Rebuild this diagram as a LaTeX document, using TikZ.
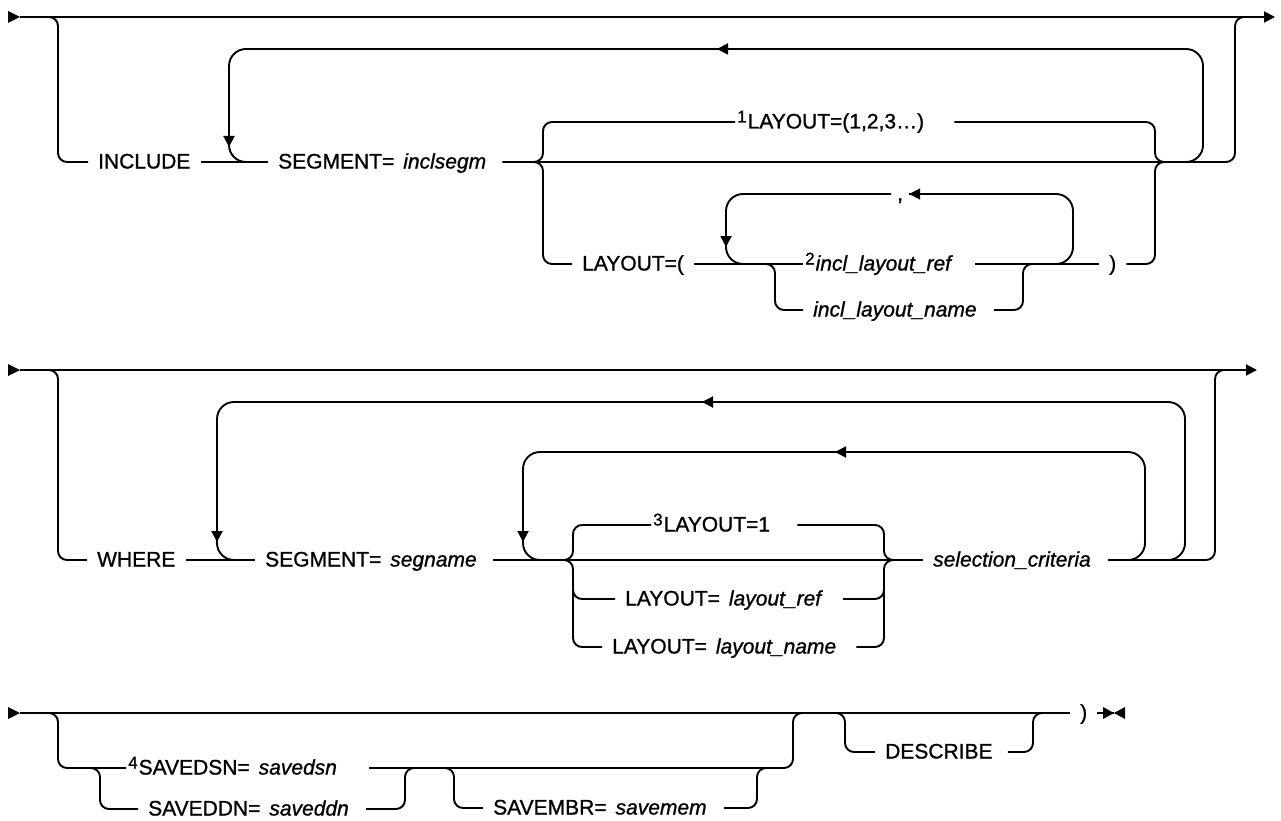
\documentclass[tikz,border=0pt]{standalone}
\usepackage{fontspec}
\setmainfont{Liberation Sans}[RawFeature={embolden=1.0}]
\usetikzlibrary{arrows.meta}
\newcommand\noteno[1]{\raisebox{6pt}{\fontsize{17}{17}\selectfont #1}\hspace{1pt}}
\newcommand\kwval[2]{#1\hspace{9pt}\textit{#2}}
\begin{document}
\begin{tikzpicture}[x=1pt,y=-1pt,
 >={Triangle[length=11pt,width=11pt]},
 rail/.style={line width=1.9pt,rounded corners=9pt},
 backrail/.style={line width=1.9pt,rounded corners=17pt},
 lbl/.style={anchor=west,inner xsep=10pt,inner ysep=0pt,text height=15pt,text depth=2pt,font=\fontsize{21}{21}\selectfont},
 fnlbl/.style={lbl,inner xsep=2pt}]
 \useasboundingbox (0,0) rectangle (1281,821);
 \coordinate (s1) at (20,17);
 \coordinate (e1) at (1275,17);
 \fill (s1)--++(-12,-6)--++(0,12)--cycle;
 \draw[rail,->] (s1)--(e1);
 \node[lbl] (inc) at (88,162) {INCLUDE};
 \node[lbl] (seg1) at (268,162) {\kwval{SEGMENT=}{inclsegm}};
 \node[fnlbl] (lay1) at (735,122) {\noteno{1}LAYOUT=(1,2,3…)};
 \node[lbl] (layp) at (572,264) {LAYOUT=(};
 \node[lbl,inner xsep=6pt] (comma) at (891,194) {,};
 \node[fnlbl] (ref) at (803,264) {\noteno{2}\textit{incl\_layout\_ref}};
 \node[lbl] (name) at (803,310) {\textit{incl\_layout\_name}};
 \node[lbl] (rpar1) at (1099,264) {)};
 \draw[rail] (40,17)--(58,17)--(58,162)--(inc.west);
 \draw[rail] (inc.east)--(seg1.west);
 \draw[rail] ([xshift=6pt]seg1.east)--(1235,162)--(1235,17)--(1250,17);
 \draw[backrail] (1185,162)-|(1203,49)-|(229,162)--(250,162);
 \draw[rail,->] (740,49)--(717,49);
 \draw[rail,->] (229,125)--(229,147);
 \draw[rail] (533,162)--(543,162)--(543,122)--(lay1.west);
 \draw[rail] (533,162)--(543,162)--(543,264)--(layp.west);
 \draw[rail] ([xshift=28pt]lay1.east)--(1155,122)--(1155,162)--(1165,162);
 \draw[rail] (rpar1.east)--(1155,264)--(1155,162)--(1165,162);
 \draw[rail] (layp.east)--(ref.west);
 \draw[backrail] (1055,264)-|(1073,194)--(comma.east);
 \draw[rail,->] (930,194)--(comma.east);
 \draw[backrail] (comma.west)-|(726,264)--(746,264);
 \draw[rail,->] (726,225)--(726,247);
 \draw[rail] (765,264)--(775,264)--(775,310)--(name.west);
 \draw[rail] ([xshift=20pt]ref.east)--(rpar1.west);
 \draw[rail] ([xshift=7pt]name.east)--(1023,310)--(1023,264)--(1035,264);
 \coordinate (s2) at (20,370);
 \coordinate (e2) at (1257,370);
 \fill (s2)--++(-12,-6)--++(0,12)--cycle;
 \draw[rail,->] (s2)--(e2);
 \node[lbl] (where) at (87,560) {WHERE};
 \node[lbl] (seg2) at (255,560) {\kwval{SEGMENT=}{segname}};
 \node[fnlbl] (lay3) at (651,525) {\noteno{3}LAYOUT=1};
 \node[lbl] (lref) at (615,599) {\kwval{LAYOUT=}{layout\_ref}};
 \node[lbl] (lname) at (602,647) {\kwval{LAYOUT=}{layout\_name}};
 \node[lbl] (sel) at (923,560) {\textit{selection\_criteria}};
 \draw[rail] (40,370)--(58,370)--(58,560)--(where.west);
 \draw[rail] (where.east)--(seg2.west);
 \draw[rail] ([xshift=6pt]seg2.east)--(sel.west);
 \draw[rail] ([xshift=7pt]sel.east)--(1215,560)--(1215,370)--(1230,370);
 \draw[backrail] (1167,560)-|(1185,402)-|(217,560)--(237,560);
 \draw[rail,->] (725,402)--(702,402);
 \draw[rail,->] (217,520)--(217,542);
 \draw[backrail] (1127,560)-|(1145,452)-|(523,560)--(543,560);
 \draw[rail,->] (858,452)--(835,452);
 \draw[rail,->] (523,520)--(523,542);
 \draw[rail] (563,560)--(573,560)--(573,525)--(lay3.west);
 \draw[rail] (563,560)--(573,560)--(573,647)--(lname.west);
 \draw[rail] (573,580)--(573,599)--(lref.west);
 \draw[rail] ([xshift=25pt]lay3.east)--(884,525)--(884,560)--(894,560);
 \draw[rail] ([xshift=10pt]lname.east)--(884,647)--(884,560)--(894,560);
 \draw[rail] ([xshift=10pt]lref.east)--(884,599)--(884,580);
 \coordinate (s3) at (20,713);
 \coordinate (e3) at (1114,713);
 \fill (s3)--++(-12,-6)--++(0,12)--cycle;
 \node[fnlbl] (dsn) at (126,768) {\noteno{4}\kwval{SAVEDSN=}{savedsn}};
 \node[lbl] (ddn) at (138,809) {\kwval{SAVEDDN=}{saveddn}};
 \node[lbl] (mbr) at (483,808) {\kwval{SAVEMBR=}{savemem}};
 \node[lbl] (desc) at (875,752) {DESCRIBE};
 \node[lbl] (rpar3) at (1070,713) {)};
 \draw[rail] (s3)--(rpar3.west);
 \draw[rail] (rpar3.east)--(e3);
 \fill (e3)--++(-11,-6)--++(0,12)--cycle;
 \fill (e3)--++(11,-6)--++(0,12)--cycle;
 \draw[rail] (40,713)--(58,713)--(58,768)--(dsn.west);
 \draw[rail] (90,768)--(100,768)--(100,809)--(ddn.west);
 \draw[rail] ([xshift=30pt]dsn.east)--(793,768)--(793,713)--(805,713);
 \draw[rail] ([xshift=7pt]ddn.east)--(405,809)--(405,768)--(415,768);
 \draw[rail] (444,768)--(454,768)--(454,808)--(mbr.west);
 \draw[rail] ([xshift=7pt]mbr.east)--(757,808)--(757,768)--(767,768);
 \draw[rail] (835,713)--(845,713)--(845,752)--(desc.west);
 \draw[rail] ([xshift=5pt]desc.east)--(1033,752)--(1033,713)--(1043,713);
\end{tikzpicture}
\end{document}
